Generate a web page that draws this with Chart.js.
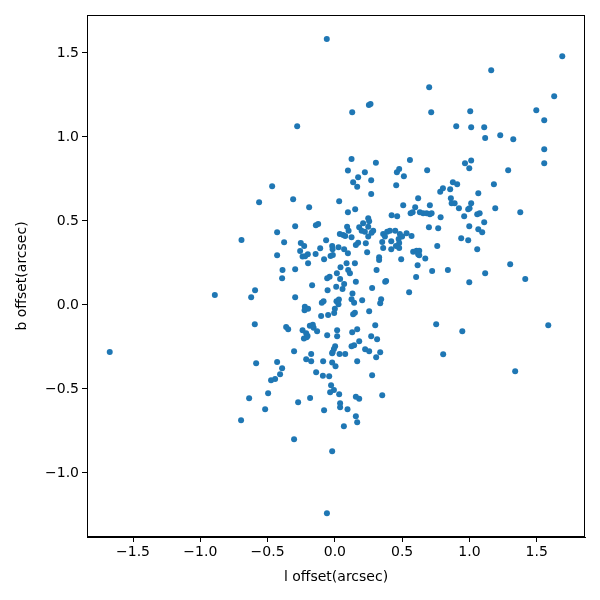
<!DOCTYPE html>
<html>
<head>
<meta charset="utf-8">
<script src="https://cdn.jsdelivr.net/npm/chart.js@4.4.0/dist/chart.umd.min.js"></script>
<style>
  html, body { margin: 0; padding: 0; background: #fff; }
  #wrap { width: 600px; height: 600px; }
</style>
</head>
<body>
<div id="wrap"><canvas id="chart" width="600" height="600"></canvas></div>
<script>
// offsets, in arcsec
const lOffset = [
  -1.673, -0.892, -0.060, -0.280, 0.701, 0.129, 0.253, 0.265, 0.716, 0.902,
  0.124, 0.558, 0.305, 1.690, 1.162, 1.630, 1.006, 1.497, 1.556, 1.013,
  1.110, 1.117, 1.229, 1.326, 1.556, 1.013,
  -0.466, -0.563, -0.310, -0.191, 0.032, 0.097, 0.097, -0.694, -0.429, -0.295,
  -0.141, -0.124, -0.377, -0.253, -0.228, -0.258, -0.240, -0.221, -0.201, -0.429,
  -0.109, -0.143, -0.199, -0.065, -0.020, -0.017, -0.032, -0.015, -0.080, 0.037,
  0.062, 0.077, 0.027, 0.069, 0.091, 0.102, 0.097, -0.389, -0.295, -0.392,
  0.042, 0.087, 0.015, -0.039, -0.057, 0.099, 0.112,
  -0.593, -0.622, -0.169, -0.054, 0.010, 0.057, 0.069, 0.039, -0.295, -0.223,
  -0.225, -0.199, -0.097, -0.084, 0.012, 0.030, 0.027, 0.000, -0.005, -0.102,
  -0.050, -0.595, -0.362, -0.347, -0.240, -0.186, -0.164, -0.158, -0.132, -0.213,
  -0.203, -0.230, -0.210, -0.057, 0.017, 0.017, 0.002, -0.007, -0.017, -0.020,
  0.035, 0.077, -0.303, -0.176, -0.213, -0.176, -0.087, -0.020, 0.005, -0.585,
  -0.429, -0.392, -0.407, -0.474, -0.444, -0.139, -0.089, -0.042, -0.028, -0.007,
  -0.035, 0.032, -0.496, -0.637, -0.184,
  -0.518, -0.697, -0.273, -0.080, 0.039, 0.039, 0.094, 0.067, -0.303, -0.020,
  -0.059, 0.181, 0.156, 0.166,
  0.156, 0.277, 0.374, 0.381, 0.552, 0.131, 0.124, 0.143, 0.203, 0.344,
  0.337, 0.255, 0.149, 0.136, 0.300, 0.753, 0.166, 0.129, 0.270, 0.314,
  0.181, 0.143, 0.124, 0.225, 0.255, 0.337, 0.307, 0.805, 0.166, 0.277,
  0.156, 0.352,
  0.999, 1.415, 0.947, 1.586, 1.340,
  0.967, 0.999, 1.556, 1.288, 0.909, 1.182, 1.066, 1.013, 0.991, 1.001,
  0.922, 1.192, 1.378, 0.961, 1.058, 1.076, 1.110, 0.999, 1.066, 1.095,
  0.939, 0.991, 1.058, 1.303, 1.117,
  0.223, 0.173, 0.136, 0.166, 0.270, 0.478, 0.461, 0.513, 0.686, 0.456,
  0.270, 0.803, 0.783, 0.877, 0.857, 0.619, 0.862, 0.868, 0.890, 0.508,
  0.597, 0.706, 0.151, 0.563, 0.578, 0.632, 0.656, 0.682, 0.706, 0.719,
  0.422, 0.463, 0.786, 0.699, 0.768, 0.248, 0.255, 0.210, 0.181, 0.199,
  0.223, 0.248, 0.285, 0.273, 0.124, 0.248, 0.230, 0.173, 0.156, 0.149,
  0.240, 0.310, 0.359, 0.389, 0.409, 0.372, 0.449, 0.483, 0.500, 0.474,
  0.533, 0.570, 0.352, 0.419, 0.478, 0.359, 0.419, 0.454, 0.478, 0.582,
  0.607, 0.627, 0.619, 0.627, 0.761, 0.672, 0.493, 0.615, 0.329, 0.329,
  0.723, 0.840, 0.604
];
const bOffset = [
  -0.280, 0.060, 1.583, 1.064, 1.296, 1.147, 1.190, 1.196, 1.147, 1.064,
  0.869, 0.863, 0.847, 1.480, 1.397, 1.242, 1.153, 1.159, 1.099, 1.058,
  1.058, 0.994, 1.010, 0.986, 0.927, 0.860,
  0.707, 0.611, 0.629, 0.582, 0.617, 0.800, 0.552, 0.387, 0.433, 0.468,
  0.474, 0.482, 0.373, 0.369, 0.351, 0.321, 0.288, 0.290, 0.302, 0.296,
  0.338, 0.304, 0.248, 0.385, 0.351, 0.332, 0.292, 0.298, 0.272, 0.423,
  0.417, 0.411, 0.343, 0.332, 0.466, 0.442, 0.308, 0.208, 0.212, 0.159,
  0.224, 0.248, 0.189, 0.168, 0.159, 0.208, 0.189,
  0.087, 0.046, 0.117, 0.087, 0.109, 0.095, 0.125, 0.155, 0.046, -0.010,
  -0.032, -0.022, 0.014, 0.022, 0.022, 0.032, 0.004, -0.022, -0.048, -0.065,
  -0.060, -0.115, -0.131, -0.145, -0.151, -0.123, -0.117, -0.135, -0.157, -0.168,
  -0.185, -0.200, -0.192, -0.180, -0.151, -0.186, -0.246, -0.262, -0.282, -0.288,
  -0.292, -0.292, -0.276, -0.292, -0.323, -0.335, -0.335, -0.343, -0.365, -0.347,
  -0.339, -0.377, -0.413, -0.448, -0.440, -0.401, -0.421, -0.424, -0.478, -0.506,
  -0.520, -0.532, -0.526, -0.555, -0.554,
  -0.621, -0.686, -0.579, -0.627, -0.585, -0.609, -0.621, -0.722, -0.799, -0.871,
  -1.240, -0.558, -0.663, -0.698,
  0.139, 0.101, 0.139, 0.143, 0.076, 0.069, 0.034, 0.014, 0.028, 0.034,
  0.010, -0.038, -0.046, -0.055, -0.121, -0.115, -0.145, -0.163, -0.186, -0.204,
  -0.216, -0.240, -0.246, -0.264, -0.276, -0.282, -0.311, -0.293, -0.335, -0.418,
  -0.546, -0.537,
  0.135, 0.155, -0.157, -0.121, -0.395,
  0.843, 0.814, 0.843, 0.802, 0.718, 0.718, 0.665, 0.605, 0.570, 0.576,
  0.576, 0.576, 0.552, 0.528, 0.540, 0.546, 0.492, 0.468, 0.451, 0.433,
  0.397, 0.385, 0.332, 0.242, 0.189,
  0.790, 0.760, 0.730, 0.704, 0.742, 0.810, 0.790, 0.766, 0.802, 0.713,
  0.661, 0.695, 0.674, 0.730, 0.689, 0.635, 0.635, 0.605, 0.605, 0.593,
  0.582, 0.593, 0.570, 0.546, 0.552, 0.552, 0.546, 0.546, 0.540, 0.546,
  0.534, 0.528, 0.522, 0.462, 0.456, 0.516, 0.498, 0.486, 0.462, 0.442,
  0.436, 0.466, 0.442, 0.430, 0.403, 0.407, 0.367, 0.371, 0.357, 0.248,
  0.314, 0.208, 0.423, 0.436, 0.442, 0.407, 0.442, 0.423, 0.407, 0.393,
  0.427, 0.411, 0.375, 0.379, 0.369, 0.339, 0.332, 0.351, 0.339, 0.317,
  0.323, 0.323, 0.302, 0.296, 0.351, 0.276, 0.272, 0.236, 0.284, 0.268,
  0.202, 0.208, 0.167
];
const xTicks = [-1.5, -1.0, -0.5, 0.0, 0.5, 1.0, 1.5];
const yTicks = [-1.0, -0.5, 0.0, 0.5, 1.0, 1.5];

const points = lOffset.map((x, i) => ({ x: x, y: bOffset[i] }));

const fmt = v => {
  const s = Math.abs(v).toFixed(1);
  return v < 0 ? '\u2212' + s : s;
};

// box round the plot area, like a matplotlib frame
const frame = {
  id: 'frame',
  afterDraw(chart) {
    const a = chart.chartArea;
    const ctx = chart.ctx;
    ctx.save();
    ctx.strokeStyle = '#000';
    ctx.lineWidth = 1;
    ctx.strokeRect(Math.round(a.left) + 0.5, Math.round(a.top) + 0.5,
      Math.round(a.right - a.left) - 1, Math.round(a.bottom - a.top) - 1);
    ctx.restore();
  }
};

const tickFont = { family: 'DejaVu Sans', size: 14 };
const titleFont = { family: 'DejaVu Sans', size: 14 };

new Chart(document.getElementById('chart').getContext('2d'), {
  type: 'scatter',
  data: {
    datasets: [{
      data: points,
      backgroundColor: '#1f77b4',
      borderWidth: 0,
      pointRadius: 3,
      pointHoverRadius: 3
    }]
  },
  options: {
    responsive: false,
    animation: false,
    layout: { padding: { top: 15, right: 15, left: 14, bottom: 14 } },
    plugins: { legend: { display: false }, tooltip: { enabled: false } },
    scales: {
      x: {
        type: 'linear',
        min: -1.842,
        max: 1.859,
        afterBuildTicks: s => { s.ticks = xTicks.map(v => ({ value: v })); },
        afterFit: s => { s.height = 49; },
        ticks: { color: '#000', font: tickFont, padding: 2, maxRotation: 0, callback: v => fmt(v) },
        grid: { drawOnChartArea: false, drawTicks: true, tickLength: 5, color: '#000' },
        border: { display: true, color: '#000' },
        title: { display: true, text: 'l offset(arcsec)', color: '#000', font: titleFont, padding: 0 }
      },
      y: {
        type: 'linear',
        min: -1.381,
        max: 1.726,
        afterBuildTicks: s => { s.ticks = yTicks.map(v => ({ value: v })); },
        afterFit: s => { s.width = 73; },
        ticks: { color: '#000', font: tickFont, padding: 3, callback: v => fmt(v) },
        grid: { drawOnChartArea: false, drawTicks: true, tickLength: 5, color: '#000' },
        border: { display: true, color: '#000' },
        title: { display: true, text: 'b offset(arcsec)', color: '#000', font: titleFont, padding: 0 }
      }
    }
  },
  plugins: [frame]
});
</script>
</body>
</html>
